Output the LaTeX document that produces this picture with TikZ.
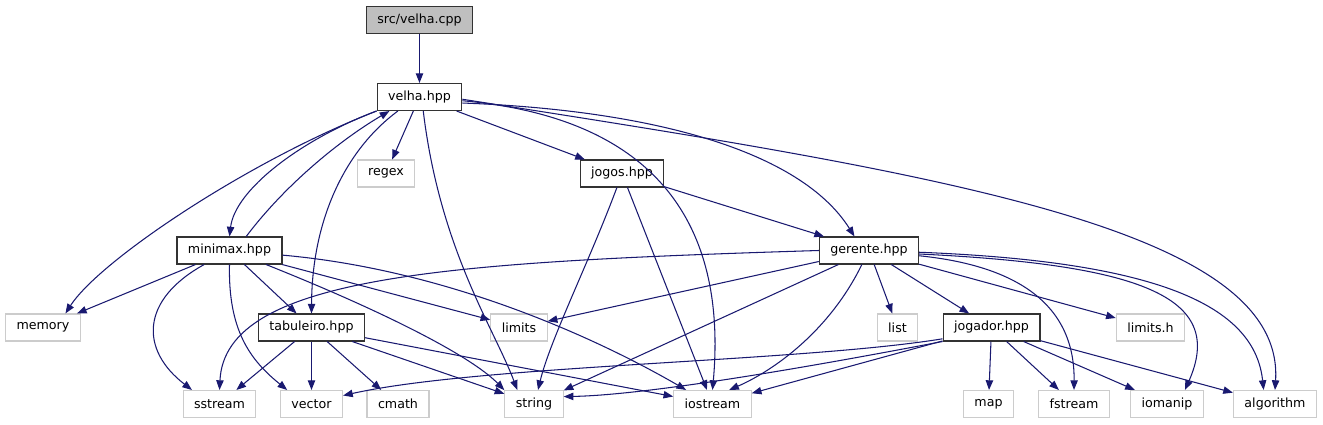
\documentclass[tikz,border=0pt]{standalone}
\usepackage{fontspec}
\setmainfont{DejaVu Sans}
\usepackage{xcolor}
\usetikzlibrary{arrows.meta}

\definecolor{edgeblue}{HTML}{191970}

\begin{document}
\begin{tikzpicture}[x=0.02cm,y=0.02cm,
  file/.style={draw=black!80,line width=0.6pt,fill=white,minimum height=0.54cm,
    inner xsep=0.22cm,inner ysep=0pt,font=\fontsize{7.2}{8.6}\selectfont},
  sysfile/.style={file,draw=gray!40},
  rootfile/.style={file,fill=gray!50},
  dep/.style={edgeblue,line width=0.6pt,-{Triangle[length=5.5pt,width=4.2pt]}}]

\useasboundingbox (0,0) rectangle (1323,-425);

% Files
\node[rootfile] (velhacpp) at (419.5,-20) {src/velha.cpp};
\node[file] (velhahpp) at (419.5,-97) {velha.hpp};
\node[sysfile] (regex) at (386,-173.5) {regex};
\node[file] (jogos) at (622,-173.5) {jogos.hpp};
\node[file] (minimax) at (229.5,-250.5) {minimax.hpp};
\node[file] (gerente) at (869,-250.5) {gerente.hpp};
\node[sysfile] (memory) at (43,-327.5) {memory};
\node[file] (tabuleiro) at (311.5,-327.5) {tabuleiro.hpp};
\node[sysfile] (limits) at (519,-327.5) {limits};
\node[sysfile] (list) at (897.5,-327.5) {list};
\node[file] (jogador) at (991.5,-327.5) {jogador.hpp};
\node[sysfile] (limitsh) at (1150.5,-327.5) {limits.h};
\node[sysfile] (sstream) at (219.5,-404) {sstream};
\node[sysfile] (vector) at (311.5,-404) {vector};
\node[sysfile] (cmath) at (398,-404) {cmath};
\node[sysfile] (string) at (534,-404) {string};
\node[sysfile] (iostream) at (712.5,-404) {iostream};
\node[sysfile] (map) at (988.5,-404) {map};
\node[sysfile] (fstream) at (1074,-404) {fstream};
\node[sysfile] (iomanip) at (1167,-404) {iomanip};
\node[sysfile] (algorithm) at (1275,-404) {algorithm};

% velha.cpp / velha.hpp
\draw[dep] (velhacpp) -- (velhahpp);
\draw[dep] (velhahpp) -- (regex);
\draw[dep] (velhahpp) -- (jogos);
\draw[dep] (velhahpp.-8) .. controls (650,-110) and (800,-150) .. (gerente.136);
\draw[dep] (velhahpp.-5) .. controls (680,-120) and (725,-250) .. (iostream.north);
\draw[dep] (velhahpp.-3) .. controls (950,-175) and (1285,-230) .. (algorithm.north);
\draw[dep] (velhahpp.-75) .. controls (440,-250) and (495,-330) .. (string.140);
\draw[dep] (velhahpp.south west) .. controls (250,-160) and (100,-260) .. (memory.32);
\draw[dep] (velhahpp.-162) .. controls (300,-140) and (235,-190) .. (minimax.north);
\draw[dep] (minimax.40) .. controls (285,-185) and (340,-140) .. (velhahpp.-155);
\draw[dep] (velhahpp.-147) .. controls (345,-150) and (312,-220) .. (tabuleiro.north);

% minimax.hpp
\draw[dep] (minimax) -- (memory);
\draw[dep] (minimax.-151) .. controls (140,-300) and (140,-350) .. (sstream.153);
\draw[dep] (minimax.south) .. controls (228,-330) and (250,-360) .. (vector.150);
\draw[dep] (minimax) -- (tabuleiro);
\draw[dep] (minimax.-21) .. controls (380,-310) and (470,-355) .. (string.155);
\draw[dep] (minimax) -- (limits);
\draw[dep] (minimax.-5) .. controls (450,-270) and (600,-340) .. (iostream.152);

% tabuleiro.hpp
\draw[dep] (tabuleiro) -- (sstream);
\draw[dep] (tabuleiro) -- (vector);
\draw[dep] (tabuleiro) -- (cmath.140);
\draw[dep] (tabuleiro) -- (string);
\draw[dep] (tabuleiro) -- (iostream);

% jogos.hpp
\draw[dep] (jogos) -- (gerente);
\draw[dep] (jogos.-110) .. controls (590,-260) and (550,-340) .. (string.74);
\draw[dep] (jogos) -- (iostream);

% gerente.hpp
\draw[dep] (gerente.west) .. controls (450,-262) and (225,-275) .. (sstream.north);
\draw[dep] (gerente) -- (limits);
\draw[dep] (gerente) -- (string);
\draw[dep] (gerente.-117) .. controls (830,-330) and (775,-370) .. (iostream.40);
\draw[dep] (gerente) -- (list);
\draw[dep] (gerente) -- (jogador);
\draw[dep] (gerente) -- (limitsh);
\draw[dep] (gerente.-6) .. controls (1010,-265) and (1075,-300) .. (fstream.north);
\draw[dep] (gerente.-4) .. controls (1150,-265) and (1225,-300) .. (iomanip.38);
\draw[dep] (gerente.-2) .. controls (1170,-262) and (1255,-310) .. (algorithm.129);

% jogador.hpp
\draw[dep] (jogador.193) .. controls (800,-362) and (480,-365) .. (vector.15);
\draw[dep] (jogador.south west) .. controls (820,-365) and (650,-395) .. (string.14);
\draw[dep] (jogador) -- (iostream);
\draw[dep] (jogador) -- (map);
\draw[dep] (jogador) -- (fstream);
\draw[dep] (jogador) -- (iomanip);
\draw[dep] (jogador) -- (algorithm);

\end{tikzpicture}
\end{document}
